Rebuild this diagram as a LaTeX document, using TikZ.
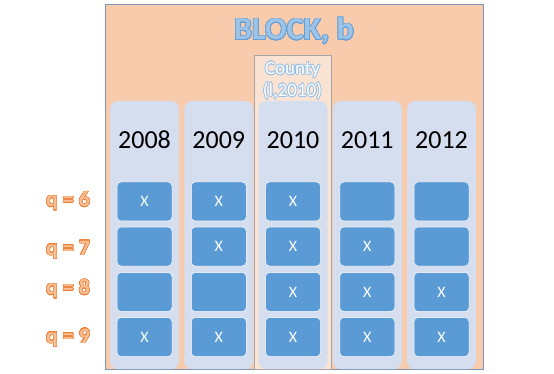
\documentclass[tikz,border=0pt]{standalone}
\usepackage{fontspec}
\setmainfont{Carlito}
\usepackage{contour}
\usetikzlibrary{positioning}
\definecolor{cpeach}{RGB}{248,203,173}
\definecolor{clite}{RGB}{251,227,212}
\definecolor{ccol}{RGB}{212,222,239}
\definecolor{ccell}{RGB}{91,155,213}
\definecolor{cframe}{RGB}{120,150,190}
\definecolor{ctitle}{RGB}{157,195,230}
\definecolor{cline}{RGB}{100,160,215}
\definecolor{cq}{RGB}{248,190,150}
\definecolor{cqline}{RGB}{237,125,49}
\contourlength{0.7pt}
\contournumber{24}

\begin{document}
\begin{tikzpicture}[
  x=1pt,y=-1pt,
  blk/.style={fill=cpeach,draw=cframe,line width=0.8pt,inner sep=0pt},
  cnty/.style={fill=clite,draw=gray!70,line width=0.6pt,inner sep=0pt},
  col/.style={fill=ccol,rounded corners=8pt,minimum width=69pt,minimum height=268pt,inner sep=0pt},
  cell/.style={fill=ccell,draw=white,line width=0.5pt,rounded corners=4pt,minimum width=55pt,minimum height=39pt,inner sep=0pt,text=white,font=\fontsize{16}{16}\selectfont},
  yr/.style={font=\fontsize{26}{26}\selectfont},
  qlab/.style={text=cq,font=\bfseries\fontsize{22}{22}\selectfont\contourlength{0.5pt}},
  ttl/.style={text=ctitle,font=\bfseries\fontsize{32}{32}\selectfont},
  sub/.style={text=white,align=center,font=\fontsize{19}{22}\selectfont}
]
\useasboundingbox (0,0) rectangle (554,374);

% ---- frames ----
\node[blk,minimum width=378pt,minimum height=365pt] (block) at (294,186.5) {};
\node[cnty,minimum width=77pt,minimum height=314pt] (county) at (292.5,212) {};
\node[ttl] (blocklab) at (294,31) {\contour{cline}{BLOCK, b}};
\node[sub] (countylab) at (292.5,81) {\contour{ctitle}{County}\\\contour{ctitle}{(l,2010)}};

% ---- year columns ----
\foreach \y [count=\i from 0] in {2008,2009,2010,2011,2012} {
  \node[col] (col-\i) at ({144.5+74.25*\i},235) {};
  \node[yr] (yr-\i) at ({144.5+74.25*\i},140) {\y};
}

% ---- cells ----
\foreach \v [count=\i from 0] in {X,X,X,{},{}} {\node[cell] (q6-\i) at ({144.5+74.25*\i},201.5) {\v};}
\foreach \v [count=\i from 0] in {{},X,X,X,{}} {\node[cell] (q7-\i) at ({144.5+74.25*\i},246.5) {\v};}
\foreach \v [count=\i from 0] in {{},{},X,X,X} {\node[cell] (q8-\i) at ({144.5+74.25*\i},292) {\v};}
\foreach \v [count=\i from 0] in {X,X,X,X,X} {\node[cell] (q9-\i) at ({144.5+74.25*\i},337) {\v};}

% ---- row labels ----
\node[qlab] (q6) at (68,201) {\contour{cqline}{q = 6}};
\node[qlab] (q7) at (68,250) {\contour{cqline}{q = 7}};
\node[qlab] (q8) at (68,289) {\contour{cqline}{q = 8}};
\node[qlab] (q9) at (68,338) {\contour{cqline}{q = 9}};
\end{tikzpicture}
\end{document}
